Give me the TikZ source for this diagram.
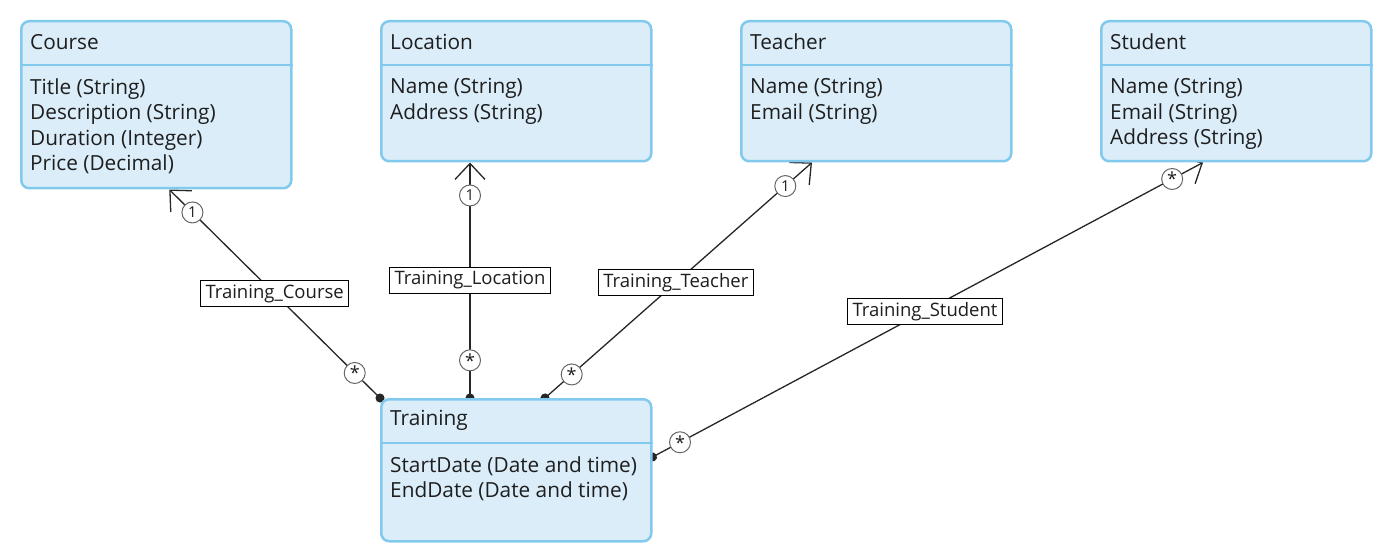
\documentclass[tikz,border=0pt]{standalone}
\usepackage{fontspec}
\setmainfont{Open Sans}
\usetikzlibrary{arrows.meta,backgrounds}
\definecolor{classfill}{RGB}{219,237,249}
\definecolor{classline}{RGB}{130,201,238}
\definecolor{textdark}{RGB}{30,30,30}
\begin{document}
\begin{tikzpicture}[x=1pt,y=-1pt]

	\tikzstyle{class_box} = [draw=classline, fill=classfill, line width=2.5pt, rounded corners=8pt, minimum width=270pt, anchor=north west, inner sep=0pt]
	\tikzstyle{class_title} = [anchor=west, inner sep=0pt, text=textdark, font=\fontsize{20.8}{25}\selectfont]
	\tikzstyle{class_attr} = [anchor=north west, inner sep=0pt, align=left, text=textdark, font=\fontsize{20.8}{25.6}\selectfont]
	\tikzstyle{class_sep} = [draw=classline, line width=2.5pt]
	\tikzstyle{assoc} = [draw=black!85, line width=1.3pt, {Circle[length=9pt]}-{Straight Barb[length=16pt,width=30pt]}, shorten <=-4.5pt]
	\tikzstyle{mult} = [circle, draw=black!60, fill=white, line width=1pt, minimum size=21pt, inner sep=0pt, text=textdark, font=\fontsize{15}{15}\selectfont]
	\tikzstyle{assoc_label} = [draw=black, fill=white, line width=1pt, inner xsep=5pt, inner ysep=0pt, minimum height=26pt, text=textdark, font=\fontsize{18.5}{18.5}\selectfont]

	\useasboundingbox (0,0) rectangle (1378,548);

%------------------------------------------------------------
	\node[class_box, minimum height=167pt] (course) at (20,20) {};
	\node[class_title] (course_title) at ([xshift=10pt,yshift=-22pt]course.north west) {Course};
	\draw[class_sep] ([yshift=-45pt]course.north west) -- ([yshift=-45pt]course.north east);
	\node[class_attr] (course_attr) at ([xshift=10pt,yshift=-58pt]course.north west)
		{Title (String)\\Description (String)\\Duration (Integer)\\Price (Decimal)};

%------------------------------------------------------------
	\node[class_box, minimum height=140pt] (location) at (380,20) {};
	\node[class_title] (location_title) at ([xshift=10pt,yshift=-22pt]location.north west) {Location};
	\draw[class_sep] ([yshift=-45pt]location.north west) -- ([yshift=-45pt]location.north east);
	\node[class_attr] (location_attr) at ([xshift=10pt,yshift=-58pt]location.north west)
		{Name (String)\\Address (String)};

%------------------------------------------------------------
	\node[class_box, minimum height=140pt] (teacher) at (740,20) {};
	\node[class_title] (teacher_title) at ([xshift=10pt,yshift=-22pt]teacher.north west) {Teacher};
	\draw[class_sep] ([yshift=-45pt]teacher.north west) -- ([yshift=-45pt]teacher.north east);
	\node[class_attr] (teacher_attr) at ([xshift=10pt,yshift=-58pt]teacher.north west)
		{Name (String)\\Email (String)};

%------------------------------------------------------------
	\node[class_box, minimum height=140pt] (student) at (1100,20) {};
	\node[class_title] (student_title) at ([xshift=10pt,yshift=-22pt]student.north west) {Student};
	\draw[class_sep] ([yshift=-45pt]student.north west) -- ([yshift=-45pt]student.north east);
	\node[class_attr] (student_attr) at ([xshift=10pt,yshift=-58pt]student.north west)
		{Name (String)\\Email (String)\\Address (String)};

%------------------------------------------------------------
	\node[class_box, minimum height=142pt] (training) at (380,398) {};
	\node[class_title] (training_title) at ([xshift=10pt,yshift=-22pt]training.north west) {Training};
	\draw[class_sep] ([yshift=-45pt]training.north west) -- ([yshift=-45pt]training.north east);
	\node[class_attr] (training_attr) at ([xshift=10pt,yshift=-58pt]training.north west)
		{StartDate (Date and time)\\EndDate (Date and time)};

%------------------------------------------------------------
	\begin{scope}[on background layer]
	\draw[assoc] (training.north west)
		-- node[mult, pos=0.12] (tc_many) {\raisebox{-4pt}{\fontsize{18}{18}\selectfont *}}
		   node[assoc_label, pos=0.5] (tc_label) {Training\_Course}
		   node[mult, pos=0.89] (tc_one) {1}
		([xshift=13pt]course.south);
	\draw[assoc] ([xshift=90pt]training.north west)
		-- node[mult, pos=0.16] (tl_many) {\raisebox{-4pt}{\fontsize{18}{18}\selectfont *}}
		   node[assoc_label, pos=0.5] (tl_label) {Training\_Location}
		   node[mult, pos=0.86] (tl_one) {1}
		([xshift=90pt]location.south west);
	\draw[assoc] ([xshift=165pt]training.north west)
		-- node[mult, pos=0.1] (tt_many) {\raisebox{-4pt}{\fontsize{18}{18}\selectfont *}}
		   node[assoc_label, pos=0.49] (tt_label) {Training\_Teacher}
		   node[mult, pos=0.9] (tt_one) {1}
		([xshift=72pt]teacher.south west);
	\draw[assoc] ([yshift=-59pt]training.north east)
		-- node[mult, pos=0.05] (ts_many) {\raisebox{-4pt}{\fontsize{18}{18}\selectfont *}}
		   node[assoc_label, pos=0.495] (ts_label) {Training\_Student}
		   node[mult, pos=0.944] (ts_more) {\raisebox{-4pt}{\fontsize{18}{18}\selectfont *}}
		([xshift=103pt]student.south west);
	\end{scope}

\end{tikzpicture}
\end{document}
